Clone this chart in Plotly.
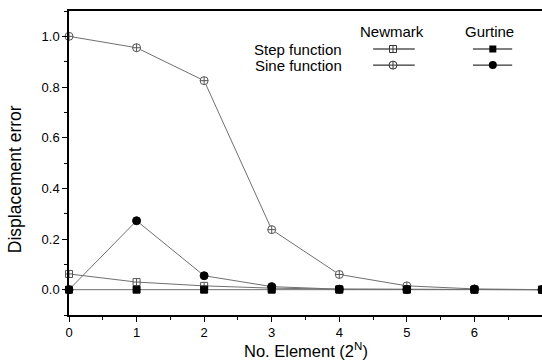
import plotly.graph_objects as go

n_elem = [0, 1, 2, 3, 4, 5, 6, 7]
newmark_step = [0.062, 0.030, 0.015, 0.006, 0.002, 0.001, 0.0, 0.0]
newmark_sine = [1.0, 0.955, 0.825, 0.237, 0.060, 0.015, 0.003, 0.0]
gurtin_step = [0.0, 0.0, 0.0, 0.0, 0.0, 0.0, 0.0, 0.0]
gurtin_sine = [0.0, 0.272, 0.055, 0.012, 0.002, 0.001, 0.002, 0.0]

x_ticks = [0, 1, 2, 3, 4, 5, 6, 7]
y_ticks = [0.0, 0.2, 0.4, 0.6, 0.8, 1.0]

line_col = "#707070"
font = "Liberation Sans, Arial, sans-serif"

fig = go.Figure()
series = [
    (newmark_sine, "circle-cross", "white", "#555555", 8),
    (newmark_step, "square-cross", "white", "#555555", 7),
    (gurtin_step, "square", "black", "black", 7),
    (gurtin_sine, "circle", "black", "black", 8),
]
for ys, sym, fc, lc, ms in series:
    fig.add_trace(go.Scatter(
        x=n_elem, y=ys, mode="lines+markers",
        line=dict(color=line_col, width=1),
        marker=dict(symbol=sym, size=ms, color=fc, line=dict(color=lc, width=1)),
        showlegend=False, cliponaxis=False))

# custom legend on overlay axes (plot-area fractions)
leg_rows = [("Step function", 0.875, "square-cross", "square", 7),
            ("Sine function", 0.822, "circle-cross", "circle", 8)]
for label, yy, s1, s2, ms in leg_rows:
    fig.add_trace(go.Scatter(x=[0.643, 0.731], y=[yy, yy], mode="lines",
                             line=dict(color="black", width=1), xaxis="x2", yaxis="y2",
                             showlegend=False, hoverinfo="skip"))
    fig.add_trace(go.Scatter(x=[0.685], y=[yy], mode="markers",
                             marker=dict(symbol=s1, size=ms, color="white", line=dict(color="#333", width=1)),
                             xaxis="x2", yaxis="y2", showlegend=False, hoverinfo="skip"))
    fig.add_trace(go.Scatter(x=[0.854, 0.937], y=[yy, yy], mode="lines",
                             line=dict(color="black", width=1), xaxis="x2", yaxis="y2",
                             showlegend=False, hoverinfo="skip"))
    fig.add_trace(go.Scatter(x=[0.896], y=[yy], mode="markers",
                             marker=dict(symbol=s2, size=ms, color="black"),
                             xaxis="x2", yaxis="y2", showlegend=False, hoverinfo="skip"))
    fig.add_annotation(x=0.581, y=yy, xref="paper", yref="paper", text=label,
                       showarrow=False, xanchor="right", yanchor="middle",
                       font=dict(size=15, color="black", family=font))

fig.add_annotation(x=0.683, y=0.931, xref="paper", yref="paper", text="Newmark",
                   showarrow=False, xanchor="center", yanchor="middle",
                   font=dict(size=15, color="black", family=font))
fig.add_annotation(x=0.89, y=0.931, xref="paper", yref="paper", text="Gurtine",
                   showarrow=False, xanchor="center", yanchor="middle",
                   font=dict(size=15, color="black", family=font))

# axis titles
fig.add_annotation(x=-0.114, y=0.447, xref="paper", yref="paper", text="Displacement error",
                   textangle=-90, showarrow=False, xanchor="center", yanchor="middle",
                   font=dict(size=17.5, color="black", family=font))
fig.add_annotation(x=0.501, y=-0.115, xref="paper", yref="paper", text="No. Element (2<sup>N</sup>)",
                   showarrow=False, xanchor="center", yanchor="middle",
                   font=dict(size=16.5, color="black", family=font))

fig.update_layout(
    width=542, height=361,
    margin=dict(l=69, r=0, t=11, b=46),
    paper_bgcolor="white", plot_bgcolor="white",
    font=dict(family=font, size=13, color="black"),
    xaxis=dict(range=[0, 7], tickvals=x_ticks, ticks="outside", ticklen=5, tickwidth=1,
               tickcolor="black", showline=True, linecolor="black", linewidth=1.5, mirror=True,
               showgrid=False, zeroline=False,
               minor=dict(dtick=0.5, ticks="outside", ticklen=3, tickcolor="black", showgrid=False),
               tickfont=dict(size=13)),
    yaxis=dict(range=[-0.1, 1.1], tickvals=y_ticks, tickformat=".1f", ticks="outside", ticklen=5,
               tickwidth=1, tickcolor="black", showline=True, linecolor="black", linewidth=1.5,
               showgrid=False, zeroline=False,
               minor=dict(dtick=0.1, ticks="outside", ticklen=3, tickcolor="black", showgrid=False),
               tickfont=dict(size=13)),
    xaxis2=dict(range=[0, 1], overlaying="x", visible=False, anchor="y2"),
    yaxis2=dict(range=[0, 1], overlaying="y", visible=False, anchor="x2"),
)
fig.write_html("out.html")
